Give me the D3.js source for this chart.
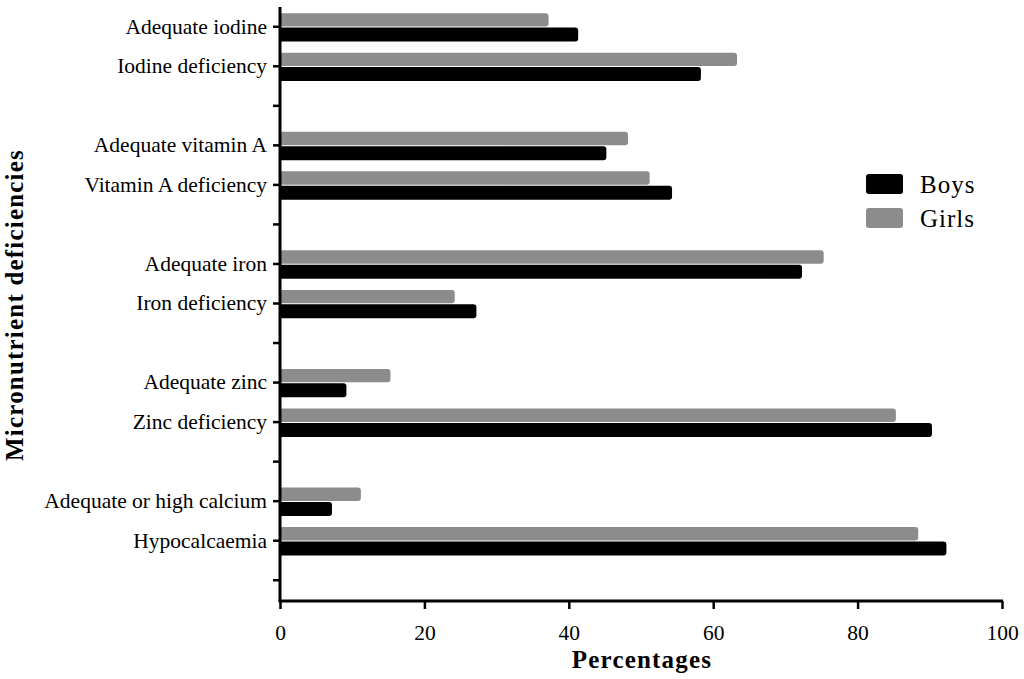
<!DOCTYPE html>
<html><head><meta charset="utf-8">
<script src="https://cdn.jsdelivr.net/npm/d3@7"></script>
<style>body{margin:0;background:#fff}svg{display:block}</style>
</head><body>
<script>
const categories = ["Adequate iodine","Iodine deficiency","gap1","Adequate vitamin A","Vitamin A deficiency","gap2","Adequate iron","Iron deficiency","gap3","Adequate zinc","Zinc deficiency","gap4","Adequate or high calcium","Hypocalcaemia","gap5"];
const girls = [37.2,63.3,null,48.2,51.2,null,75.3,24.2,null,15.3,85.3,null,11.2,88.4,null];
const boys  = [41.3,58.3,null,45.2,54.3,null,72.3,27.2,null,9.2,90.3,null,7.2,92.3,null];
const xTicks = [0,20,40,60,80,100];
const seriesNames = ["Boys","Girls"];
const colors = {Boys:"#000000", Girls:"#8c8c8c"};

const W=1024,H=679;
const svg=d3.select("body").append("svg").attr("width",W).attr("height",H);
const x=d3.scaleLinear().domain([0,100]).range([280,1002]);
const y=d3.scaleBand().domain(categories).range([7,600]).padding(0);
const font="Liberation Serif, Times New Roman, serif";

function bar(v,yTop,h,col){
  if(v==null) return;
  const x0=x(0)+1, x1=x(v), r=3;
  svg.append("path").attr("fill",col)
    .attr("d",`M${x0},${yTop}H${x1-r}Q${x1},${yTop} ${x1},${yTop+r}V${yTop+h-r}Q${x1},${yTop+h} ${x1-r},${yTop+h}H${x0}Z`);
}
categories.forEach((c,i)=>{
  const cy=y(c)+y.bandwidth()/2;
  bar(girls[i],cy-13.6,13.4,colors.Girls);
  bar(boys[i],cy+0.8,14,colors.Boys);
});

// Y axis
const yAxis=d3.axisLeft(y).tickSize(7).tickPadding(6).tickFormat(d=>d.startsWith("gap")?"":d);
const gy=svg.append("g").attr("transform","translate(280,0)").call(yAxis);
gy.attr("font-size",null).attr("font-family",null);
gy.select(".domain").attr("stroke","#000").attr("stroke-width",3).attr("d","M0,7V601");
gy.selectAll(".tick line").attr("stroke","#000").attr("stroke-width",2.5);
gy.selectAll(".tick text").attr("font-family",font).attr("font-size",21.5).attr("fill","#000");

// X axis
const xAxis=d3.axisBottom(x).tickValues(xTicks).tickSize(8).tickPadding(10);
const gx=svg.append("g").attr("transform","translate(0,601)").call(xAxis);
gx.attr("font-size",null).attr("font-family",null);
gx.select(".domain").attr("stroke","#000").attr("stroke-width",3).attr("d","M278.5,0H1003");
gx.selectAll(".tick line").attr("stroke","#000").attr("stroke-width",2.5);
gx.selectAll(".tick text").attr("font-family",font).attr("font-size",21.5).attr("fill","#000")
  .attr("y",39).attr("dy",null);

// Axis titles
svg.append("text").attr("x",642).attr("y",668).attr("text-anchor","middle")
  .attr("font-family",font).attr("font-weight","bold").attr("font-size",25).attr("letter-spacing",1.2).text("Percentages");
svg.append("text").attr("transform","translate(23,305) rotate(-90)").attr("text-anchor","middle")
  .attr("font-family",font).attr("font-weight","bold").attr("font-size",25).attr("letter-spacing",1.2).text("Micronutrient deficiencies");

// Legend
seriesNames.forEach((s,i)=>{
  const ly=174+i*34;
  svg.append("rect").attr("x",866).attr("y",ly).attr("width",37).attr("height",20).attr("rx",3).attr("fill",colors[s]);
  svg.append("text").attr("x",920).attr("y",ly+19).attr("font-family",font).attr("font-size",25).attr("letter-spacing",1).text(s);
});
</script>
</body></html>
